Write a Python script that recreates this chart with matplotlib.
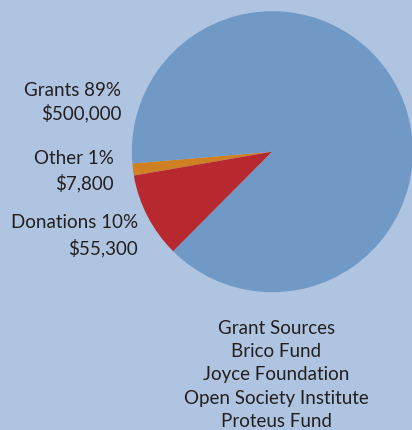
import matplotlib
matplotlib.use("Agg")
import matplotlib.pyplot as plt

categories = ["Other", "Donations", "Grants"]
amounts = [7800, 55300, 500000]
labels = [("Grants 89%", "$500,000"), ("Other 1%", "$7,800"), ("Donations 10%", "$55,300")]
colors = ["#cf8022", "#b8282f", "#7099c6"]
sources_title = "Grant Sources"
sources = ["Brico Fund", "Joyce Foundation", "Open Society Institute", "Proteus Fund"]

W, H = 412, 431
bg = "#afc4e0"
txt = "#231f20"
plt.rcParams['font.family'] = ['Lato', 'DejaVu Sans']

fig = plt.figure(figsize=(W / 100, H / 100), dpi=100, facecolor=bg)
ax = fig.add_axes([0, 0, 1, 1])
ax.set_facecolor(bg)

ax.pie(amounts, colors=colors, startangle=184.8, counterclock=True,
       center=(272.3, H - 152.7), radius=140.5,
       wedgeprops=dict(linewidth=0), frame=True)
ax.set_xlim(0, W)
ax.set_ylim(0, H)
ax.set_aspect('equal')
ax.axis('off')

fs = 13.5
label_pos = [(121.5, 90, 113), (114, 159, 183), (138, 223, 248)]
for (l1, l2), (x, y1, y2) in zip(labels, label_pos):
    ax.text(x, H - y1, l1, ha='right', va='center', fontsize=fs, color=txt)
    ax.text(x, H - y2, l2, ha='right', va='center', fontsize=fs, color=txt)

lines = [sources_title] + sources
for i, s in enumerate(lines):
    ax.text(276.5, H - (328 + 23.5 * i), s, ha='center', va='center', fontsize=fs, color=txt)

fig.savefig("out.png", dpi=100, facecolor=bg)
